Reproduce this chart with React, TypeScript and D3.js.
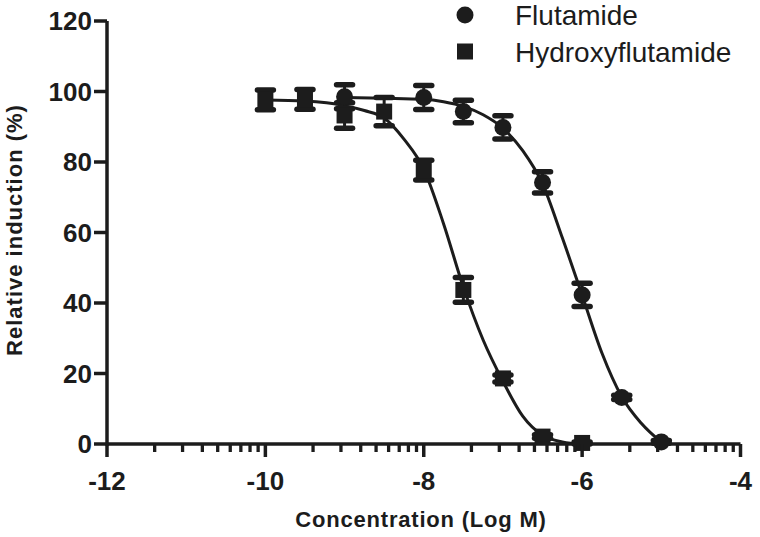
import * as d3 from 'd3';

const WIDTH = 760;
const HEIGHT = 537;
const INK = '#1c1c1c';

// log concentration (M) of each measured point
const flutamideLogC = [-9, -8, -7.5, -7, -6.5, -6, -5.5, -5];
const flutamideMean = [98.5, 98.3, 94.3, 89.8, 74.2, 42.3, 13.2, 0.6];
const flutamideSem = [3.4, 3.4, 3.2, 3.3, 3.0, 3.3, 0.6, 0.4];

const hydroxyLogC = [-10, -9.5, -9, -8.5, -8, -7.5, -7, -6.5, -6];
const hydroxyMean = [97.6, 97.8, 93.2, 94.3, 77.7, 43.7, 18.6, 2.1, 0.3];
const hydroxySem = [2.8, 2.8, 3.6, 4.0, 2.8, 3.5, 1.0, 0.5, 0.3];

// fitted curves
const flutamideFitX = [-9, -8.5, -8, -7.75, -7.5, -7.25, -7, -6.75, -6.5, -6.25, -6, -5.75, -5.5, -5.25, -5];
const flutamideFitY = [98.3, 98.1, 97.8, 97.1, 95.8, 93.4, 89.6, 83.2, 73.8, 58.5, 42.2, 25.8, 13.4, 5.8, 0.5];
const hydroxyFitX = [-10, -9.5, -9, -8.75, -8.5, -8.25, -8, -7.75, -7.5, -7.25, -7, -6.75, -6.5, -6.25, -6];
const hydroxyFitY = [97.6, 97.3, 96, 94.6, 92.5, 86.5, 78, 62.5, 44.5, 29.5, 17.8, 7.9, 2.5, 0.6, 0];

const xTicks = [-12, -10, -8, -6, -4];
const yTicks = [0, 20, 40, 60, 80, 100, 120];
const minorSteps = [2, 3, 4, 5, 6, 7, 8, 9];

const legendLabels = ['Flutamide', 'Hydroxyflutamide'];

const MARGIN = { top: 21, right: 19.5, bottom: 93, left: 107 };

const App = () => {
  const xScale = d3
    .scaleLinear()
    .domain([-12, -4])
    .range([MARGIN.left, WIDTH - MARGIN.right]);
  const yScale = d3
    .scaleLinear()
    .domain([0, 120])
    .range([HEIGHT - MARGIN.bottom, MARGIN.top]);

  const y0 = yScale(0);
  const x0 = xScale(-12);

  const line = d3
    .line<[number, number]>()
    .x(d => xScale(d[0]))
    .y(d => yScale(d[1]))
    .curve(d3.curveMonotoneX);

  const flutamideCurve = line(flutamideFitX.map((x, i) => [x, flutamideFitY[i]]));
  const hydroxyCurve = line(hydroxyFitX.map((x, i) => [x, hydroxyFitY[i]]));

  // Prism-style log minor ticks within every 2-unit major interval
  const minorTicks: number[] = [];
  xTicks.slice(0, -1).forEach(t => {
    minorSteps.forEach(k => minorTicks.push(t + 2 * Math.log10(k)));
  });

  const errorBar = (x: number, m: number, s: number, key: string) => {
    const cx = xScale(x);
    const top = yScale(m + s);
    const bot = yScale(m - s);
    return (
      <g key={key} stroke={INK} strokeWidth={5.5} strokeLinecap="round">
        <line x1={cx} x2={cx} y1={top} y2={bot} strokeWidth={3} />
        <line x1={cx - 8} x2={cx + 8} y1={top} y2={top} />
        <line x1={cx - 8} x2={cx + 8} y1={bot} y2={bot} />
      </g>
    );
  };

  return (
    <svg
      width={WIDTH}
      height={HEIGHT}
      style={{ position: 'absolute', left: 0, top: 0, background: '#fff' }}
      fontFamily="'Liberation Sans', Arial, sans-serif"
    >
      {/* curves */}
      <path d={hydroxyCurve ?? ''} fill="none" stroke={INK} strokeWidth={3} />
      <path d={flutamideCurve ?? ''} fill="none" stroke={INK} strokeWidth={3} />

      {/* error bars */}
      {hydroxyLogC.map((x, i) => errorBar(x, hydroxyMean[i], hydroxySem[i], `he${i}`))}
      {flutamideLogC.map((x, i) => errorBar(x, flutamideMean[i], flutamideSem[i], `fe${i}`))}

      {/* markers */}
      {hydroxyLogC.map((x, i) => (
        <rect
          key={`hs${i}`}
          x={xScale(x) - 8}
          y={yScale(hydroxyMean[i]) - 8}
          width={16}
          height={16}
          fill={INK}
        />
      ))}
      {flutamideLogC.map((x, i) => (
        <circle key={`fc${i}`} cx={xScale(x)} cy={yScale(flutamideMean[i])} r={8.5} fill={INK} />
      ))}

      {/* x axis */}
      <line x1={x0} x2={xScale(-4)} y1={y0} y2={y0} stroke={INK} strokeWidth={3.5} />
      {minorTicks.map((t, i) => (
        <line key={`mt${i}`} x1={xScale(t)} x2={xScale(t)} y1={y0} y2={y0 + 8} stroke={INK} strokeWidth={3.3} />
      ))}
      {xTicks.map(t => (
        <g key={`xt${t}`}>
          <line x1={xScale(t)} x2={xScale(t)} y1={y0} y2={y0 + 13} stroke={INK} strokeWidth={3.5} />
          <text
            x={xScale(t)}
            y={490}
            textAnchor="middle"
            fontSize={26}
            fontWeight="bold"
            fill={INK}
          >
            {t}
          </text>
        </g>
      ))}

      {/* y axis */}
      <line x1={x0} x2={x0} y1={yScale(120)} y2={y0 + 1.75} stroke={INK} strokeWidth={3.5} />
      {yTicks.map(t => (
        <g key={`yt${t}`}>
          <line x1={x0 - 13} x2={x0} y1={yScale(t)} y2={yScale(t)} stroke={INK} strokeWidth={3.5} />
          <text
            x={92}
            y={yScale(t)}
            dy="0.36em"
            textAnchor="end"
            fontSize={26}
            fontWeight="bold"
            fill={INK}
          >
            {t}
          </text>
        </g>
      ))}

      {/* axis titles */}
      <text
        x={421}
        y={527}
        textAnchor="middle"
        fontSize={22}
        letterSpacing={0.8}
        fontWeight="bold"
        fill={INK}
      >
        Concentration (Log M)
      </text>
      <text
        transform={`translate(22,${230}) rotate(-90)`}
        textAnchor="middle"
        fontSize={22}
        letterSpacing={1}
        fontWeight="bold"
        fill={INK}
      >
        Relative induction (%)
      </text>

      {/* legend */}
      <circle cx={465} cy={15} r={8.5} fill={INK} />
      <text x={515} y={25} fontSize={28} fill={INK}>
        {legendLabels[0]}
      </text>
      <rect x={457} y={43.5} width={16} height={16} fill={INK} />
      <text x={515} y={61.5} fontSize={28} fill={INK}>
        {legendLabels[1]}
      </text>
    </svg>
  );
};

export default App;
